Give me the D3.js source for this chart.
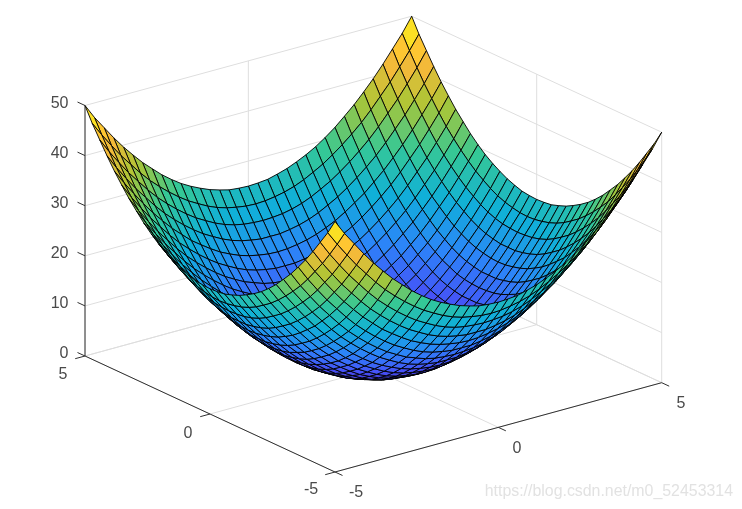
<!DOCTYPE html>
<html>
<head>
<meta charset="utf-8">
<script src="https://cdn.jsdelivr.net/npm/d3@7"></script>
<style>
  body { margin: 0; background: #fff; }
  svg { filter: blur(0.4px); }
  text { font-family: "Liberation Sans", Arial, sans-serif; }
</style>
</head>
<body>
<div id="chart-container"></div>
<script>
// Mesh positions, same for x and y
const gridValues = [-5, -4.71, -4.41, -4.12, -3.82, -3.53, -3.24, -2.94, -2.65, -2.35, -2.06, -1.76, -1.47, -1.18, -0.88, -0.59, -0.29, 0,
  0.29, 0.59, 0.88, 1.18, 1.47, 1.76, 2.06, 2.35, 2.65, 2.94, 3.24, 3.53, 3.82, 4.12, 4.41, 4.71, 5];

// Surface heights, one list per row of the mesh
const row00 = [50, 47.1, 44.5, 42, 39.6, 37.5, 35.5, 33.7, 32, 30.5, 29.2, 28.1, 27.2, 26.4, 25.8, 25.3, 25.1, 25, 25.1, 25.3, 25.8, 26.4, 27.2, 28.1, 29.2, 30.5, 32, 33.7, 35.5, 37.5, 39.6, 42, 44.5, 47.1, 50];
const row01 = [47.1, 44.3, 41.6, 39.1, 36.8, 34.6, 32.6, 30.8, 29.2, 27.7, 26.4, 25.3, 24.3, 23.5, 22.9, 22.5, 22.2, 22.1, 22.2, 22.5, 22.9, 23.5, 24.3, 25.3, 26.4, 27.7, 29.2, 30.8, 32.6, 34.6, 36.8, 39.1, 41.6, 44.3, 47.1];
const row02 = [44.5, 41.6, 38.9, 36.4, 34.1, 31.9, 29.9, 28.1, 26.5, 25, 23.7, 22.6, 21.6, 20.8, 20.2, 19.8, 19.6, 19.5, 19.6, 19.8, 20.2, 20.8, 21.6, 22.6, 23.7, 25, 26.5, 28.1, 29.9, 31.9, 34.1, 36.4, 38.9, 41.6, 44.5];
const row03 = [42, 39.1, 36.4, 33.9, 31.6, 29.4, 27.4, 25.6, 24, 22.5, 21.2, 20.1, 19.1, 18.3, 17.7, 17.3, 17, 17, 17, 17.3, 17.7, 18.3, 19.1, 20.1, 21.2, 22.5, 24, 25.6, 27.4, 29.4, 31.6, 33.9, 36.4, 39.1, 42];
const row04 = [39.6, 36.8, 34.1, 31.6, 29.2, 27.1, 25.1, 23.3, 21.6, 20.2, 18.9, 17.7, 16.8, 16, 15.4, 15, 14.7, 14.6, 14.7, 15, 15.4, 16, 16.8, 17.7, 18.9, 20.2, 21.6, 23.3, 25.1, 27.1, 29.2, 31.6, 34.1, 36.8, 39.6];
const row05 = [37.5, 34.6, 31.9, 29.4, 27.1, 24.9, 22.9, 21.1, 19.5, 18, 16.7, 15.6, 14.6, 13.8, 13.2, 12.8, 12.5, 12.5, 12.5, 12.8, 13.2, 13.8, 14.6, 15.6, 16.7, 18, 19.5, 21.1, 22.9, 24.9, 27.1, 29.4, 31.9, 34.6, 37.5];
const row06 = [35.5, 32.6, 29.9, 27.4, 25.1, 22.9, 20.9, 19.1, 17.5, 16, 14.7, 13.6, 12.6, 11.9, 11.2, 10.8, 10.6, 10.5, 10.6, 10.8, 11.2, 11.9, 12.6, 13.6, 14.7, 16, 17.5, 19.1, 20.9, 22.9, 25.1, 27.4, 29.9, 32.6, 35.5];
const row07 = [33.7, 30.8, 28.1, 25.6, 23.3, 21.1, 19.1, 17.3, 15.7, 14.2, 12.9, 11.8, 10.8, 10, 9.4, 9, 8.7, 8.7, 8.7, 9, 9.4, 10, 10.8, 11.8, 12.9, 14.2, 15.7, 17.3, 19.1, 21.1, 23.3, 25.6, 28.1, 30.8, 33.7];
const row08 = [32, 29.2, 26.5, 24, 21.6, 19.5, 17.5, 15.7, 14, 12.5, 11.2, 10.1, 9.2, 8.4, 7.8, 7.4, 7.1, 7, 7.1, 7.4, 7.8, 8.4, 9.2, 10.1, 11.2, 12.5, 14, 15.7, 17.5, 19.5, 21.6, 24, 26.5, 29.2, 32];
const row09 = [30.5, 27.7, 25, 22.5, 20.2, 18, 16, 14.2, 12.5, 11.1, 9.8, 8.7, 7.7, 6.9, 6.3, 5.9, 5.6, 5.5, 5.6, 5.9, 6.3, 6.9, 7.7, 8.7, 9.8, 11.1, 12.5, 14.2, 16, 18, 20.2, 22.5, 25, 27.7, 30.5];
const row10 = [29.2, 26.4, 23.7, 21.2, 18.9, 16.7, 14.7, 12.9, 11.2, 9.8, 8.5, 7.4, 6.4, 5.6, 5, 4.6, 4.3, 4.2, 4.3, 4.6, 5, 5.6, 6.4, 7.4, 8.5, 9.8, 11.2, 12.9, 14.7, 16.7, 18.9, 21.2, 23.7, 26.4, 29.2];
const row11 = [28.1, 25.3, 22.6, 20.1, 17.7, 15.6, 13.6, 11.8, 10.1, 8.7, 7.4, 6.2, 5.3, 4.5, 3.9, 3.5, 3.2, 3.1, 3.2, 3.5, 3.9, 4.5, 5.3, 6.2, 7.4, 8.7, 10.1, 11.8, 13.6, 15.6, 17.7, 20.1, 22.6, 25.3, 28.1];
const row12 = [27.2, 24.3, 21.6, 19.1, 16.8, 14.6, 12.6, 10.8, 9.2, 7.7, 6.4, 5.3, 4.3, 3.5, 2.9, 2.5, 2.3, 2.2, 2.3, 2.5, 2.9, 3.5, 4.3, 5.3, 6.4, 7.7, 9.2, 10.8, 12.6, 14.6, 16.8, 19.1, 21.6, 24.3, 27.2];
const row13 = [26.4, 23.5, 20.8, 18.3, 16, 13.8, 11.9, 10, 8.4, 6.9, 5.6, 4.5, 3.5, 2.8, 2.2, 1.7, 1.5, 1.4, 1.5, 1.7, 2.2, 2.8, 3.5, 4.5, 5.6, 6.9, 8.4, 10, 11.9, 13.8, 16, 18.3, 20.8, 23.5, 26.4];
const row14 = [25.8, 22.9, 20.2, 17.7, 15.4, 13.2, 11.2, 9.4, 7.8, 6.3, 5, 3.9, 2.9, 2.2, 1.6, 1.1, 0.9, 0.8, 0.9, 1.1, 1.6, 2.2, 2.9, 3.9, 5, 6.3, 7.8, 9.4, 11.2, 13.2, 15.4, 17.7, 20.2, 22.9, 25.8];
const row15 = [25.3, 22.5, 19.8, 17.3, 15, 12.8, 10.8, 9, 7.4, 5.9, 4.6, 3.5, 2.5, 1.7, 1.1, 0.7, 0.4, 0.3, 0.4, 0.7, 1.1, 1.7, 2.5, 3.5, 4.6, 5.9, 7.4, 9, 10.8, 12.8, 15, 17.3, 19.8, 22.5, 25.3];
const row16 = [25.1, 22.2, 19.6, 17, 14.7, 12.5, 10.6, 8.7, 7.1, 5.6, 4.3, 3.2, 2.3, 1.5, 0.9, 0.4, 0.2, 0.1, 0.2, 0.4, 0.9, 1.5, 2.3, 3.2, 4.3, 5.6, 7.1, 8.7, 10.6, 12.5, 14.7, 17, 19.6, 22.2, 25.1];
const row17 = [25, 22.1, 19.5, 17, 14.6, 12.5, 10.5, 8.7, 7, 5.5, 4.2, 3.1, 2.2, 1.4, 0.8, 0.3, 0.1, 0, 0.1, 0.3, 0.8, 1.4, 2.2, 3.1, 4.2, 5.5, 7, 8.7, 10.5, 12.5, 14.6, 17, 19.5, 22.1, 25];
const zValues = [row00, row01, row02, row03, row04, row05, row06, row07, row08, row09, row10, row11, row12, row13, row14, row15, row16, row17,
  row16, row15, row14, row13, row12, row11, row10, row09, row08, row07, row06, row05, row04, row03, row02, row01, row00];

const xTicks = [-5, 0, 5];
const yTicks = [-5, 0, 5];
const zTicks = [0, 10, 20, 30, 40, 50];
const parulaStops = ["#3e26a8", "#4750f8", "#2b86f8", "#10b0d8", "#35c896", "#abc636", "#ffb83a", "#f9fb15"];

const svg = d3.select("#chart-container").append("svg").attr("width", 742).attr("height", 509);

// Axis vectors of the 3D box as seen on screen
const xToSx = d3.scaleLinear().domain([-5, 5]).range([0, 326.7]);
const yToSx = d3.scaleLinear().domain([-5, 5]).range([0, -250]);
const xToSy = d3.scaleLinear().domain([-5, 5]).range([0, -89.3]);
const yToSy = d3.scaleLinear().domain([-5, 5]).range([0, -116]);
const zToSy = d3.scaleLinear().domain([0, 50]).range([0, -250.5]);
const color = d3.scaleLinear().domain(parulaStops.map((c, i) => i * 50 / 7)).range(parulaStops).interpolate(d3.interpolateRgb);
const px = (x, y) => 335 + xToSx(x) + yToSx(y);
const py = (x, y, z) => 472 + xToSy(x) + yToSy(y) + zToSy(z);

const seg = (x1, y1, z1, x2, y2, z2, stroke) => svg.append("line")
  .attr("x1", px(x1, y1)).attr("y1", py(x1, y1, z1))
  .attr("x2", px(x2, y2)).attr("y2", py(x2, y2, z2))
  .attr("stroke", stroke).attr("stroke-width", 1);

// Grid on the floor and the two back walls
const gridColor = "#dedede";
zTicks.forEach(z => { seg(-5, 5, z, 5, 5, z, gridColor); seg(5, 5, z, 5, -5, z, gridColor); });
xTicks.forEach(x => { seg(x, -5, 0, x, 5, 0, gridColor); seg(x, 5, 0, x, 5, 50, gridColor); });
yTicks.forEach(y => { seg(-5, y, 0, 5, y, 0, gridColor); seg(5, y, 0, 5, y, 50, gridColor); });

// Axis lines and ticks
const axisColor = "#303030";
seg(-5, 5, 0, -5, 5, 50, axisColor);
seg(-5, -5, 0, 5, -5, 0, axisColor);
seg(-5, -5, 0, -5, 5, 0, axisColor);
xTicks.forEach(x => seg(x, -5, 0, x, -5.3, 0, axisColor));
yTicks.forEach(y => seg(-5, y, 0, -5.3, y, 0, axisColor));
zTicks.forEach(z => seg(-5, 5, z, -5, 5.3, z, axisColor));

// Surface facets, painted from back to front
const facets = [];
d3.range(gridValues.length - 1).forEach(j => {
  d3.range(gridValues.length - 1).forEach(i => {
    const pts = [[i, j], [i + 1, j], [i + 1, j + 1], [i, j + 1]]
      .map(([a, b]) => [gridValues[a], gridValues[b], zValues[b][a]]);
    facets.push({
      pts,
      meanZ: d3.mean(pts, p => p[2]),
      depth: d3.mean(pts, p => -0.568 * p[0] / 10 - 0.74 * p[1] / 10 + 0.233 * p[2] / 50)
    });
  });
});
facets.sort((a, b) => a.depth - b.depth);

svg.append("g").selectAll("polygon").data(facets).join("polygon")
  .attr("points", d => d.pts.map(p => [px(p[0], p[1]), py(p[0], p[1], p[2])].join(",")).join(" "))
  .attr("fill", d => color(d.meanZ))
  .attr("stroke", "#000")
  .attr("stroke-width", 0.9)
  .attr("stroke-linejoin", "round");

// Tick labels
const label = (t, x, y, anchor) => svg.append("text")
  .attr("x", x).attr("y", y)
  .attr("text-anchor", anchor || "middle")
  .attr("font-size", 16)
  .attr("fill", "#4a4a4a")
  .text(t);
zTicks.forEach(z => label(z, 68.5, py(-5, 5, z) + 2, "end"));
label(5, 63, 378.5);
label(0, 188, 437.5);
label(-5, 311, 494);
label(-5, 356, 496.5);
label(0, 517, 453);
label(5, 681, 407.5);

// Site watermark
svg.append("text")
  .attr("x", 733).attr("y", 496)
  .attr("text-anchor", "end")
  .attr("font-size", 15.9)
  .attr("fill", "#e2e2e2")
  .text("https://blog.csdn.net/m0_52453314");
</script>
</body>
</html>
